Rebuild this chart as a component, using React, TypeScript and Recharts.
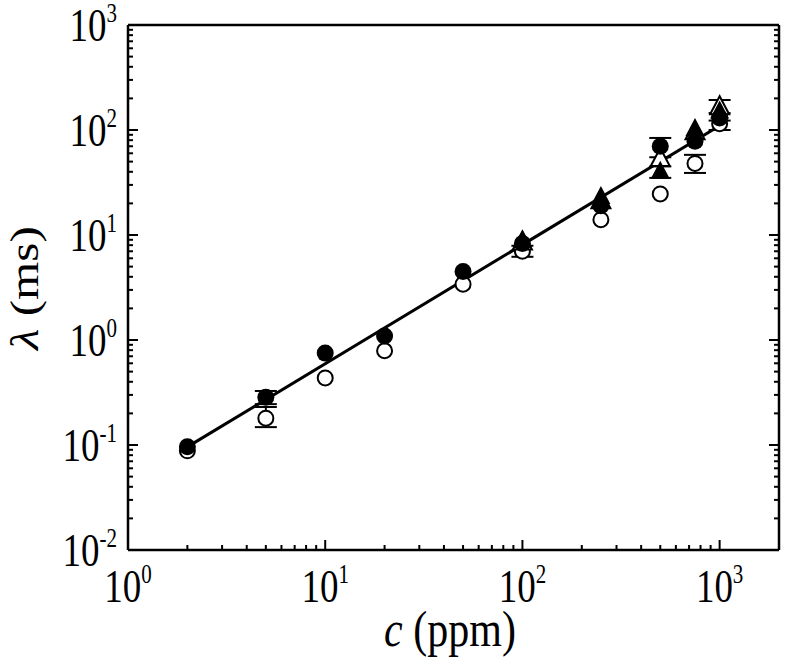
import React from 'react';
import { ScatterChart, Scatter, XAxis, YAxis, ErrorBar } from 'recharts';

// concentration c (ppm) and relaxation time lambda (ms)
const conc = [2, 5, 10, 20, 50, 100, 250, 500, 750, 1000];
const filledCircle = [0.096, 0.285, 0.75, 1.09, 4.5, 8.3, 19, 70, 78, 130];
const filledCircleErr = [null, [0.04, 0.042], null, null, null, null, null, [15, 14], null, null];
const openCircle = [0.088, 0.18, 0.435, 0.79, 3.4, 7.0, 14, 24.6, 48, 115];
const openCircleErr = [null, [0.032, 0.05], null, null, null, [0.8, 0.9], null, null, [9, 10], [15, 8]];

const triConc = [100, 250, 500, 750, 1000];
const filledTriangle = [8.8, 23, 40, 102, 150];
const filledTriangleErr = [null, null, [5, 5], null, null];
const openTriangle = [8.5, 21, 53, 95, 165];
const openTriangleErr = [null, null, null, null, [20, 28]];

const fitConc = [2, 1080];
const fitLambda = [0.096, 120];

const xTicks = [
  1, 2, 3, 4, 5, 6, 7, 8, 9,
  10, 20, 30, 40, 50, 60, 70, 80, 90,
  100, 200, 300, 400, 500, 600, 700, 800, 900,
  1000,
];
const yTicks = [
  0.01, 0.02, 0.03, 0.04, 0.05, 0.06, 0.07, 0.08, 0.09,
  0.1, 0.2, 0.3, 0.4, 0.5, 0.6, 0.7, 0.8, 0.9,
  1, 2, 3, 4, 5, 6, 7, 8, 9,
  10, 20, 30, 40, 50, 60, 70, 80, 90,
  100, 200, 300, 400, 500, 600, 700, 800, 900,
  1000,
];

const FONT = '"Liberation Serif", "DejaVu Serif", serif';

const toPoints = (xs: number[], ys: number[], errs?: any[]) =>
  xs.map((c, i) => ({ c, v: ys[i], err: errs ? errs[i] : undefined }));

const fcPts = toPoints(conc, filledCircle, filledCircleErr);
const ocPts = toPoints(conc, openCircle, openCircleErr);
const ftPts = toPoints(triConc, filledTriangle, filledTriangleErr);
const otPts = toPoints(triConc, openTriangle, openTriangleErr);
const errPts = [...fcPts, ...ocPts, ...ftPts, ...otPts].filter((p) => p.err);
const fitPts = toPoints(fitConc, fitLambda);

const isDecade = (v: number) => {
  const l = Math.log10(v);
  return Math.abs(l - Math.round(l)) < 1e-6;
};
const expOf = (v: number) => String(Math.round(Math.log10(v)));

const Label10 = ({ v, sup, dy }: any) => (
  <>
    10
    <tspan fontSize={sup} dy={dy}>
      {expOf(v)}
    </tspan>
  </>
);

const BottomTick = (props: any) => {
  const { x, y, payload } = props;
  const major = isDecade(payload.value);
  return (
    <g>
      <line x1={x} x2={x} y1={y} y2={y - (major ? 10 : 5)} stroke="#000" strokeWidth={2} />
      {major && (
        <g transform={`translate(${x},${y + 52}) scale(1,1.25)`}>
          <text textAnchor="middle" fontFamily={FONT} fontSize={37} fill="#000">
            <Label10 v={payload.value} sup={21} dy={-15} />
          </text>
        </g>
      )}
    </g>
  );
};

const TopTick = (props: any) => {
  const { x, y, payload } = props;
  const major = isDecade(payload.value);
  return <line x1={x} x2={x} y1={y} y2={y + (major ? 10 : 5)} stroke="#000" strokeWidth={2} />;
};

const LeftTick = (props: any) => {
  const { x, y, payload } = props;
  const major = isDecade(payload.value);
  return (
    <g>
      <line x1={x} x2={x + (major ? 10 : 5)} y1={y} y2={y} stroke="#000" strokeWidth={2} />
      {major && (
        <g transform={`translate(${x - 11},${y + 16}) scale(1,1.25)`}>
          <text textAnchor="end" fontFamily={FONT} fontSize={37} fill="#000">
            <Label10 v={payload.value} sup={21} dy={-15} />
          </text>
        </g>
      )}
    </g>
  );
};

const RightTick = (props: any) => {
  const { x, y, payload } = props;
  const major = isDecade(payload.value);
  return <line x1={x} x2={x - (major ? 10 : 5)} y1={y} y2={y} stroke="#000" strokeWidth={2} />;
};

const FilledCircle = ({ cx, cy }: any) => <circle cx={cx} cy={cy} r={8.5} fill="#000" />;
const OpenCircle = ({ cx, cy }: any) => (
  <circle cx={cx} cy={cy} r={7.5} fill="#fff" stroke="#000" strokeWidth={2} />
);
const triPoints = (cx: number, cy: number) =>
  `${cx},${cy - 11} ${cx - 9.5},${cy + 7} ${cx + 9.5},${cy + 7}`;
const FilledTriangle = ({ cx, cy }: any) => <polygon points={triPoints(cx, cy)} fill="#000" />;
const OpenTriangle = ({ cx, cy }: any) => (
  <polygon points={triPoints(cx, cy)} fill="#fff" stroke="#000" strokeWidth={2} />
);
const Nothing = () => <g />;

const axisLine = { stroke: '#000', strokeWidth: 2.5 };

const App: React.FC = () => {
  return (
    <div style={{ position: 'absolute', left: 0, top: 0, width: 785, height: 660, background: '#fff' }}>
      <ScatterChart width={785} height={660} margin={{ top: 24, right: 5, bottom: 109, left: 127 }}>
        <XAxis
          xAxisId="bottom"
          dataKey="c"
          type="number"
          scale="log"
          domain={[1, 2000]}
          allowDataOverflow
          ticks={xTicks}
          interval={0}
          height={1}
          tickSize={0}
          tickMargin={0}
          tickLine={false}
          axisLine={axisLine}
          tick={<BottomTick />}
        />
        <XAxis
          xAxisId="top"
          orientation="top"
          type="number"
          scale="log"
          domain={[1, 2000]}
          allowDataOverflow
          ticks={xTicks}
          interval={0}
          height={1}
          tickSize={0}
          tickMargin={0}
          tickLine={false}
          axisLine={axisLine}
          tick={<TopTick />}
        />
        <YAxis
          yAxisId="left"
          dataKey="v"
          type="number"
          scale="log"
          domain={[0.01, 1000]}
          allowDataOverflow
          ticks={yTicks}
          interval={0}
          width={1}
          tickSize={0}
          tickMargin={0}
          tickLine={false}
          axisLine={axisLine}
          tick={<LeftTick />}
        />
        <YAxis
          yAxisId="right"
          orientation="right"
          type="number"
          scale="log"
          domain={[0.01, 1000]}
          allowDataOverflow
          ticks={yTicks}
          interval={0}
          width={1}
          tickSize={0}
          tickMargin={0}
          tickLine={false}
          axisLine={axisLine}
          tick={<RightTick />}
        />

        <Scatter
          xAxisId="bottom"
          yAxisId="left"
          data={fitPts}
          line={{ stroke: '#000', strokeWidth: 3 }}
          shape={<Nothing />}
          isAnimationActive={false}
        />
        <Scatter xAxisId="bottom" yAxisId="left" data={errPts} shape={<Nothing />} isAnimationActive={false}>
          <ErrorBar dataKey="err" direction="y" width={11} stroke="#000" strokeWidth={2} />
        </Scatter>
        <Scatter xAxisId="bottom" yAxisId="left" data={ocPts} shape={<OpenCircle />} isAnimationActive={false} />
        <Scatter xAxisId="bottom" yAxisId="left" data={otPts} shape={<OpenTriangle />} isAnimationActive={false} />
        <Scatter xAxisId="bottom" yAxisId="left" data={fcPts} shape={<FilledCircle />} isAnimationActive={false} />
        <Scatter xAxisId="bottom" yAxisId="left" data={ftPts} shape={<FilledTriangle />} isAnimationActive={false} />

        <g transform="translate(38,288) scale(1,1.2) rotate(-90)">
          <text textAnchor="middle" fontFamily={FONT} fontSize={41} fill="#000">
            <tspan fontStyle="italic">λ</tspan> (ms)
          </text>
        </g>
        <g transform="translate(450,646) scale(1,1.2)">
          <text textAnchor="middle" fontFamily={FONT} fontSize={42} fill="#000">
            <tspan fontStyle="italic">c</tspan> (ppm)
          </text>
        </g>
      </ScatterChart>
    </div>
  );
};

export default App;
